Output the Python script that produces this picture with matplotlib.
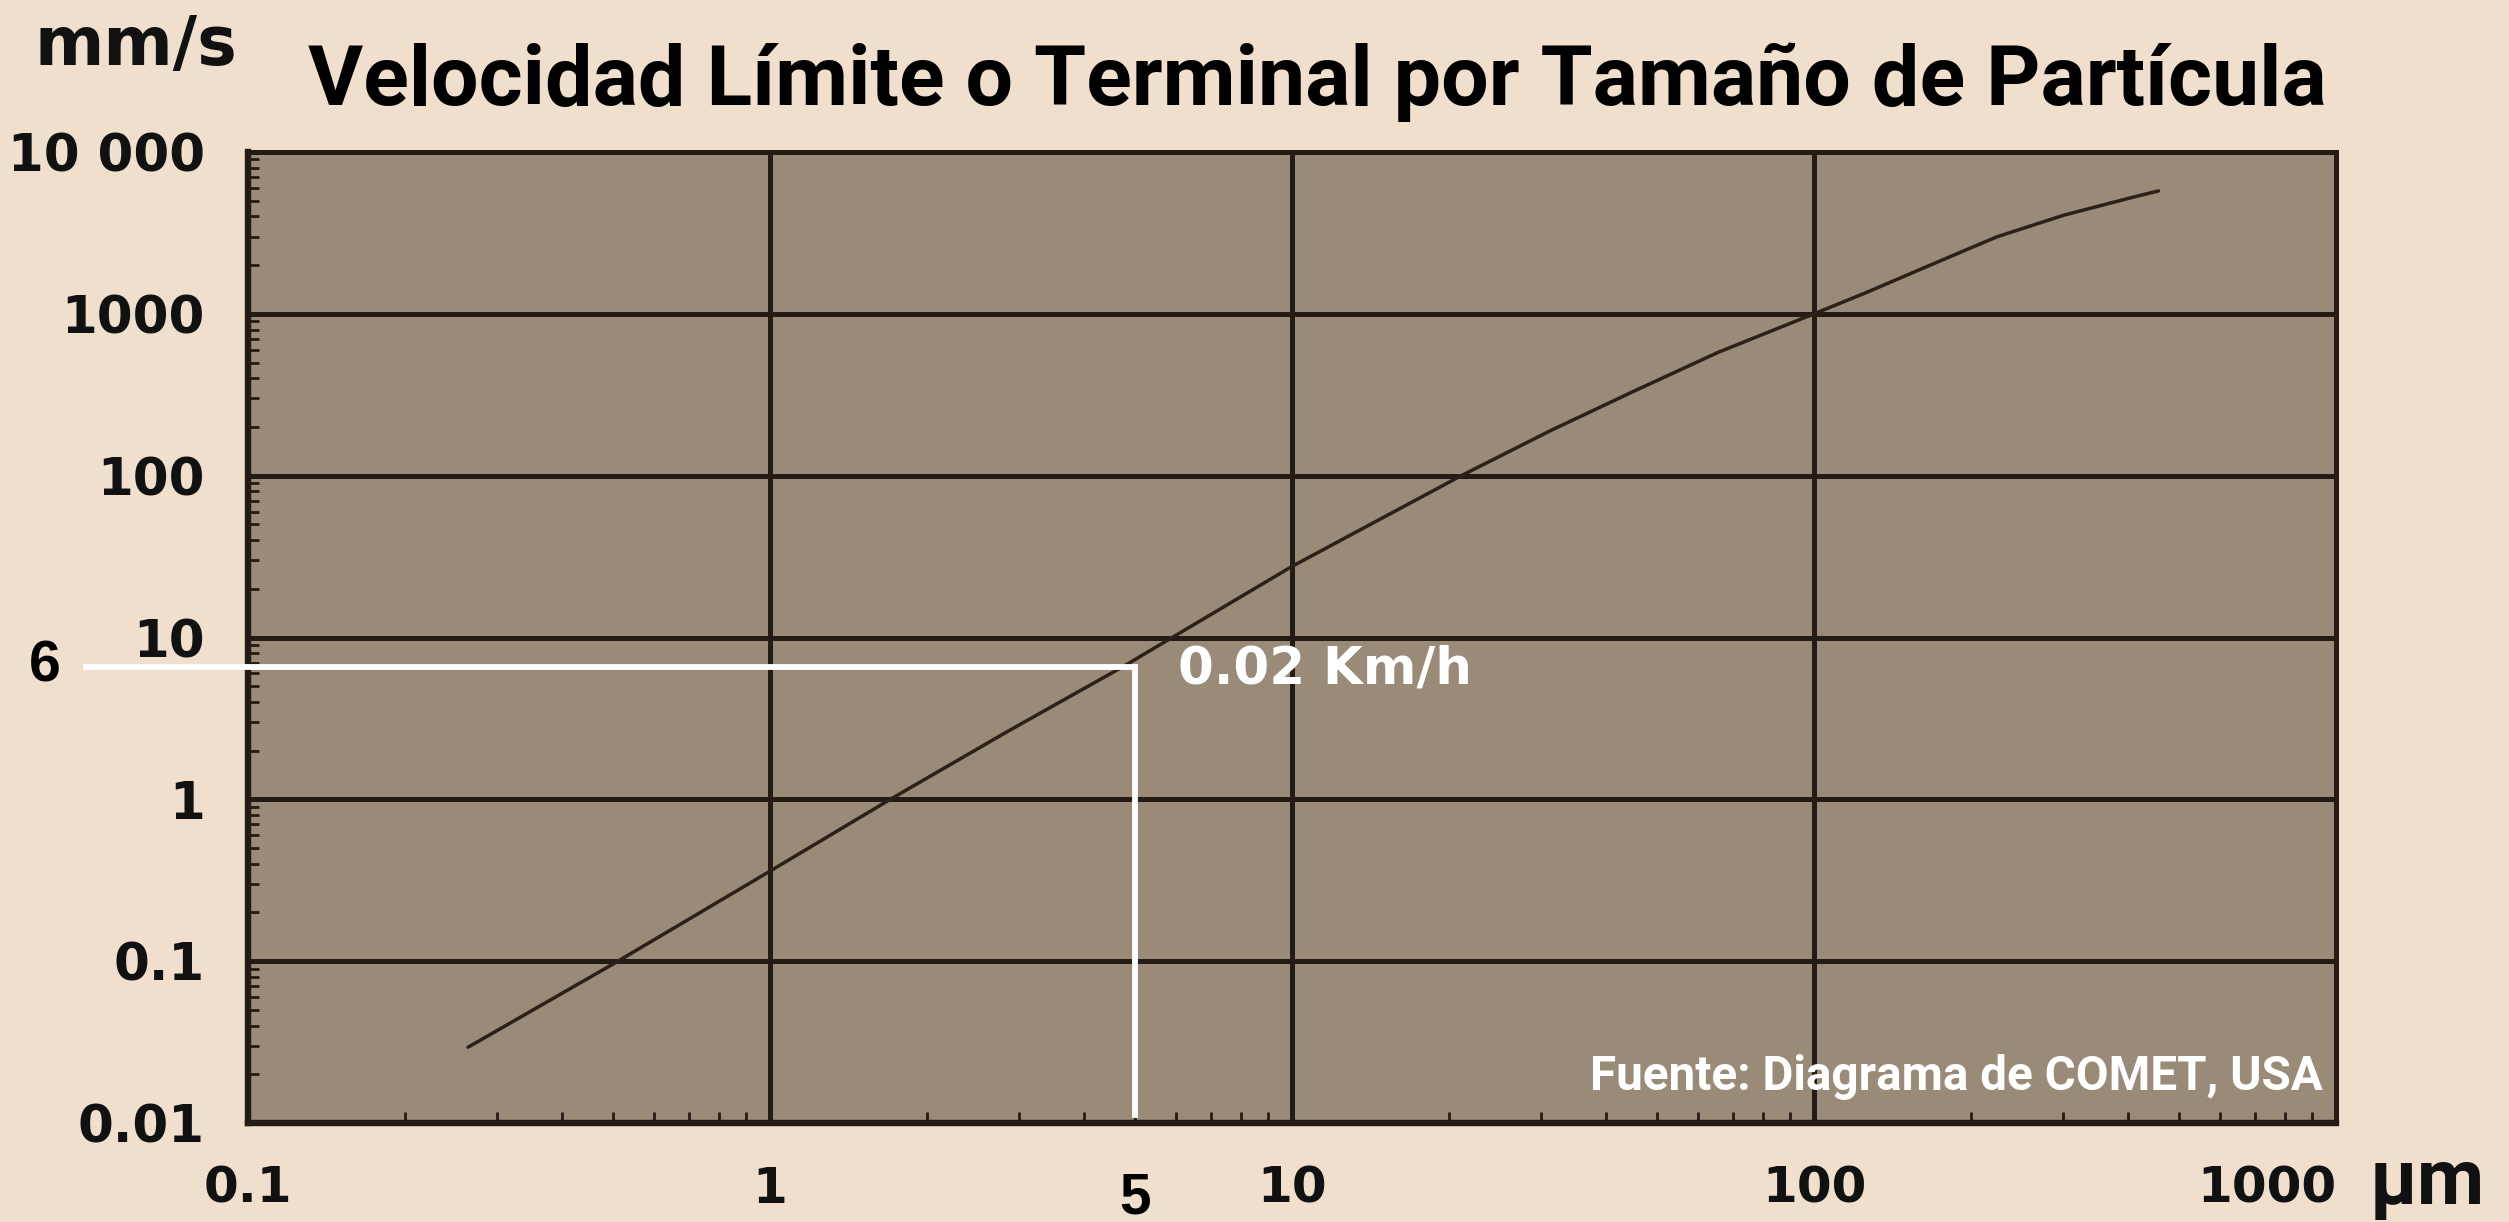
import matplotlib
matplotlib.use("Agg")
import matplotlib.pyplot as plt
import matplotlib.transforms as mtransforms
from matplotlib.ticker import FixedLocator, LogLocator, NullFormatter

# ---------------- data ----------------
diam_um = [0.264, 0.506, 1.0, 1.70, 2.83, 4.77, 10.0, 21.1, 31.3, 45.3, 65.5,
           100.0, 125.0, 167.0, 224.0, 301.0, 404.0, 457.0]
vel_mm_s = [0.0294, 0.098, 0.36, 1.0, 2.59, 6.67, 27.5, 100.0, 190.0, 334.0, 578.0,
            1000.0, 1340.0, 2000.0, 2990.0, 4070.0, 5210.0, 5750.0]

x_ticks = [0.1, 1, 10, 100, 1000]
x_ticklabels = ["0.1", "1", "10", "100", "1000"]
y_ticks = [0.01, 0.1, 1, 10, 100, 1000, 10000]
y_ticklabels = ["0.01", "0.1", "1", "10", "100", "1000", "10 000"]

marker_x = 5.0        # µm
marker_y = 6.6        # mm/s (where the guide is drawn)
marker_x_label = "5"
marker_y_label = "6"
marker_text = "0.02 Km/h"
guide_start_x = 0.049
guide_floor_y = 0.0112

title = "Velocidad Límite o Terminal por Tamaño de Partícula"
y_unit = "mm/s"
x_unit = "µm"
source = "Fuente: Diagrama de COMET, USA"

# ---------------- style ----------------
FIG_BG = "#efdfcc"
AX_BG = "#9a8a78"
DARK = "#231b14"
W, H, DPI = 2509, 1222, 100

fig = plt.figure(figsize=(W / DPI, H / DPI), dpi=DPI, facecolor=FIG_BG)
ax = fig.add_axes([248 / W, 1 - 1123 / H, (2336 - 248) / W, (1123 - 152) / H])
ax.set_facecolor(AX_BG)

ax.set_xscale("log")
ax.set_yscale("log")
ax.set_xlim(0.1, 1000)
ax.set_ylim(0.01, 10000)

ax.plot(diam_um, vel_mm_s, color="#2a2119", lw=2.5, zorder=4, solid_capstyle="round",
        solid_joinstyle="round")

# grid
ax.grid(True, which="major", color=DARK, lw=3.6, zorder=1)
ax.set_axisbelow(True)
for name, s in ax.spines.items():
    s.set_color(DARK)
    s.set_linewidth(4.6 if name in ("left", "bottom") else 3.6)

ax.xaxis.set_major_locator(FixedLocator(x_ticks))
ax.yaxis.set_major_locator(FixedLocator(y_ticks))
ax.set_xticklabels(x_ticklabels)
ax.set_yticklabels(y_ticklabels)
ax.xaxis.set_minor_locator(LogLocator(base=10, subs=range(2, 10), numticks=20))
ax.yaxis.set_minor_locator(LogLocator(base=10, subs=range(2, 10), numticks=20))
ax.xaxis.set_minor_formatter(NullFormatter())
ax.yaxis.set_minor_formatter(NullFormatter())
ax.tick_params(which="major", length=0, pad=30)
ax.tick_params(axis="y", which="major", pad=31)
ax.tick_params(which="minor", direction="in", length=8, width=2.0, color=DARK)

for lab in ax.get_xticklabels():
    lab.set_fontfamily("DejaVu Sans")
    lab.set_fontweight("bold")
    lab.set_fontsize(36)
    lab.set_color("#111111")
for lab in ax.get_yticklabels():
    lab.set_fontfamily("DejaVu Sans")
    lab.set_fontweight("bold")
    lab.set_fontsize(37)
    lab.set_color("#111111")
ax.get_xticklabels()[-1].set_horizontalalignment("right")

# guide lines (white)
ax.plot([guide_start_x, marker_x, marker_x], [marker_y, marker_y, guide_floor_y],
        color="white", lw=4.2, clip_on=False, zorder=6, solid_joinstyle="miter")

tr_y = mtransforms.blended_transform_factory(fig.transFigure, ax.transData)
fig.text(45 / W, marker_y, marker_y_label, transform=tr_y, ha="center", va="center",
         fontfamily="Liberation Sans", fontweight="bold", fontsize=41, color="black")
tr_x = mtransforms.blended_transform_factory(ax.transData, fig.transFigure)
fig.text(marker_x, 1 - 1199 / H, marker_x_label, transform=tr_x, ha="center", va="center",
         fontfamily="Liberation Sans", fontweight="bold", fontsize=41, color="black")

ax.annotate(marker_text, xy=(marker_x, marker_y), xytext=(31, -2), textcoords="offset points",
            ha="left", va="center", color="white", fontfamily="DejaVu Sans",
            fontweight="bold", fontsize=37, zorder=7)

# units and title
fig.text(136 / W, 1 - 46 / H, y_unit, ha="center", va="center",
         fontfamily="DejaVu Sans", fontweight="bold", fontsize=48, color="#111111")
fig.text(2370 / W, 1 - 1183 / H, x_unit, ha="left", va="center",
         fontfamily="Roboto", fontweight="bold", fontsize=56, color="#111111")

t_title = fig.text(1317 / W, 1 - 82 / H, title, ha="center", va="center",
                   fontfamily="Roboto", fontweight="bold", fontsize=60, color="black")
t_src = ax.text(0.9938, 0.047, source, transform=ax.transAxes, ha="right", va="center",
                fontfamily="Roboto", fontweight="bold", fontsize=30, color="white", zorder=7)

# fit widths of the title and source texts to the reference widths
fig.canvas.draw()
r = fig.canvas.get_renderer()
for t, target in ((t_title, 2016), (t_src, 731)):
    w = t.get_window_extent(r).width
    t.set_fontsize(t.get_fontsize() * target / w)

fig.savefig("out.png", dpi=DPI, facecolor=FIG_BG)
